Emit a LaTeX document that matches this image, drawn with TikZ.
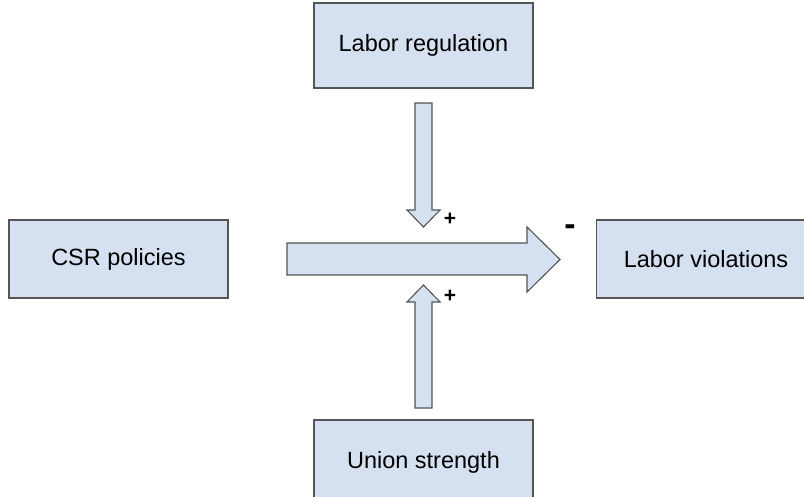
\documentclass[tikz,border=0pt]{standalone}
\usepackage{fontspec}
\setmainfont{Liberation Sans}
\definecolor{boxfill}{HTML}{D5E1F1}
\definecolor{boxline}{HTML}{555555}

\begin{document}
\begin{tikzpicture}[x=0.025cm, y=-0.025cm,
    factor/.style={draw=boxline, line width=0.8pt, fill=boxfill, minimum width=5.475cm, inner sep=0pt, font=\fontsize{16.7}{20}\selectfont},
    blockarrow/.style={draw=boxline, line width=0.8pt, fill=boxfill, line join=miter},
    sign/.style={inner sep=0pt, font=\fontsize{15}{17}\selectfont\bfseries}]

    \useasboundingbox (0,0) rectangle (804,496);
    \clip (0,0) rectangle (804,496);

    % factors
    \node[factor, minimum height=2.125cm] (reg) at (423.5, 45.5) {Labor regulation};
    \node[factor, minimum height=1.95cm] (csr) at (118.5, 259) {CSR policies};
    \node[factor, minimum height=1.95cm] (viol) at (706, 259) {Labor violations};
    \node[factor, minimum height=2.125cm] (union) at (423.5, 462.5) {Union strength};

    % block arrows
    \draw[blockarrow] (287,243) -- (527,243) -- (527,227) -- (560,259.5) -- (527,292) -- (527,275) -- (287,275) -- cycle;
    \draw[blockarrow] (415,103) -- (432,103) -- (432,210) -- (440,210) -- (423.5,227) -- (407,210) -- (415,210) -- cycle;
    \draw[blockarrow] (415,408) -- (432,408) -- (432,302) -- (440,302) -- (423.5,285) -- (407,302) -- (415,302) -- cycle;

    % signs
    \node[sign] (plusreg) at (450, 219) {+};
    \node[sign] (plusunion) at (450, 296) {+};
    \node[sign, font=\fontsize{24}{26}\selectfont\bfseries] (minus) at (570, 230) {-};

\end{tikzpicture}
\end{document}
